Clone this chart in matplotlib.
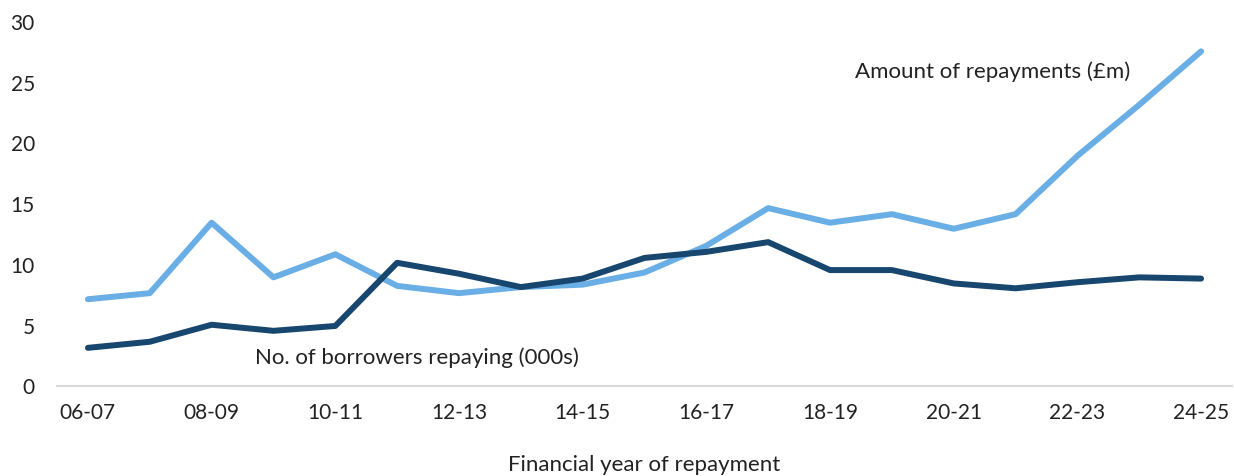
import matplotlib.pyplot as plt
import numpy as np

years = ["06-07", "07-08", "08-09", "09-10", "10-11", "11-12", "12-13", "13-14", "14-15", "15-16",
         "16-17", "17-18", "18-19", "19-20", "20-21", "21-22", "22-23", "23-24", "24-25"]
borrowers = [3.1, 3.6, 5.0, 4.5, 4.9, 10.1, 9.2, 8.1, 8.8, 10.5,
             11.0, 11.8, 9.5, 9.5, 8.4, 8.0, 8.5, 8.9, 8.8]
amount = [7.1, 7.6, 13.4, 8.9, 10.8, 8.2, 7.6, 8.1, 8.3, 9.3,
          11.5, 14.6, 13.4, 14.1, 12.9, 14.1, 18.9, 23.1, 27.5]

plt.rcParams['font.family'] = ['Lato', 'DejaVu Sans']

fig = plt.figure(figsize=(12.34, 4.77), dpi=100)
ax = fig.add_axes([57 / 1234, 1 - 386.5 / 477, (1232 - 57) / 1234, (386.5 - 22) / 477])

x = np.arange(len(years))
ax.plot(x, amount, color="#6aaee6", lw=4.3, solid_capstyle="round", solid_joinstyle="round")
ax.plot(x, borrowers, color="#17466f", lw=4.3, solid_capstyle="round", solid_joinstyle="round")

ax.set_xlim(-0.5, 18.5)
ax.set_ylim(0, 30)
ax.set_yticks(range(0, 31, 5))
ax.set_xticks(x[::2])
ax.set_xticklabels(years[::2])
ax.tick_params(length=0, labelsize=15, colors="#222222")
ax.tick_params(axis="y", pad=16)
ax.tick_params(axis="x", pad=12)
for s in ["top", "right", "left"]:
    ax.spines[s].set_visible(False)
ax.spines["bottom"].set_color("#d9d9d9")
ax.spines["bottom"].set_linewidth(1.5)

ax.text(12.4, 25.9, "Amount of repayments (£m)", fontsize=16, color="#222222", va="center")
ax.text(2.7, 2.4, "No. of borrowers repaying (000s)", fontsize=16, color="#222222", va="center")
ax.set_xlabel("Financial year of repayment", fontsize=16, color="#222222", labelpad=23)

fig.savefig("out.png", dpi=100)
